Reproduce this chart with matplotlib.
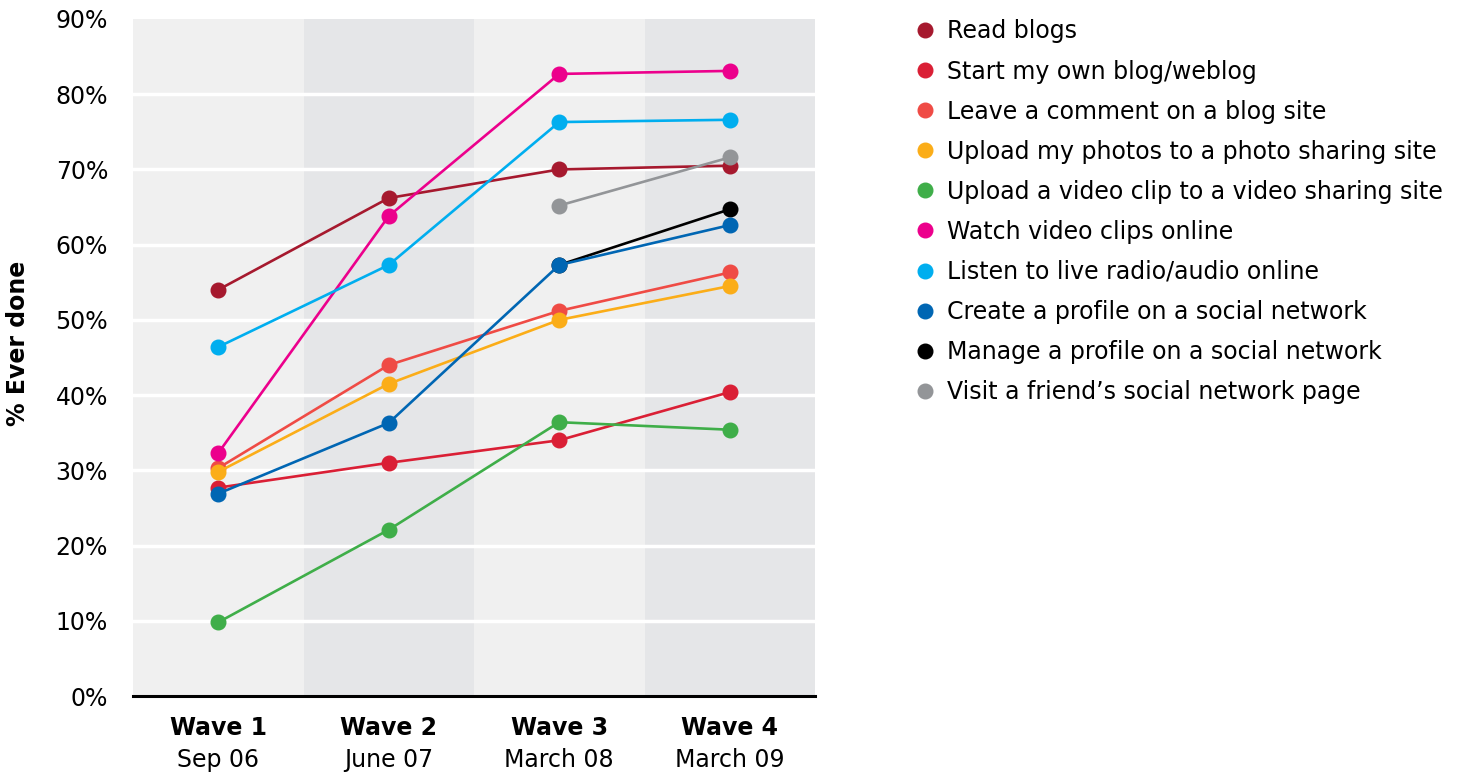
import numpy as np
import matplotlib
matplotlib.use('Agg')
import matplotlib.pyplot as plt
from matplotlib.lines import Line2D
from matplotlib.transforms import blended_transform_factory

# === DATA ===
WAVES = ['Wave 1', 'Wave 2', 'Wave 3', 'Wave 4']
DATES = ['Sep 06', 'June 07', 'March 08', 'March 09']

SERIES_NAMES = [
    'Read blogs',
    'Start my own blog/weblog',
    'Leave a comment on a blog site',
    'Upload my photos to a photo sharing site',
    'Upload a video clip to a video sharing site',
    'Watch video clips online',
    'Listen to live radio/audio online',
    'Create a profile on a social network',
    'Manage a profile on a social network',
    'Visit a friend\u2019s social network page',
]
read_blogs = [54.0, 66.2, 70.0, 70.5]
start_blog = [27.7, 31.0, 34.0, 40.4]
leave_comment = [30.3, 44.0, 51.2, 56.3]
upload_photos = [29.8, 41.5, 50.0, 54.5]
upload_video = [9.8, 22.1, 36.4, 35.4]
watch_video = [32.3, 63.8, 82.7, 83.1]
listen_radio = [46.4, 57.3, 76.3, 76.6]
create_profile = [26.9, 36.3, 57.3, 62.6]
manage_profile = [np.nan, np.nan, 57.3, 64.7]
visit_friend = [np.nan, np.nan, 65.2, 71.6]

SERIES_VALUES = [read_blogs, start_blog, leave_comment, upload_photos, upload_video,
                 watch_video, listen_radio, create_profile, manage_profile, visit_friend]
COLORS = ['#a6192e', '#da1f35', '#ef4b45', '#fbad18', '#3fae49',
          '#ec008c', '#00aeef', '#0066b3', '#000000', '#939598']
# series drawn behind the others (black line hides under the blue point)
ZORDERS = [3, 3, 3, 3, 3, 3, 3, 4, 2, 5]

Y_TICKS = [0, 10, 20, 30, 40, 50, 60, 70, 80, 90]
BAND_COLORS = ['#f0f0f0', '#e5e6e8']
FONT_SIZE = 17
# === END DATA ===

fig = plt.figure(figsize=(14.58, 7.72), dpi=100)
ax = fig.add_axes([133 / 1458, 1 - 696 / 772, (815 - 133) / 1458, (696 - 19) / 772])

x = np.arange(len(WAVES))
ax.set_xlim(-0.5, len(WAVES) - 0.5)
ax.set_ylim(0, 90)

# alternating background bands
for i in range(len(WAVES)):
    ax.axvspan(i - 0.5, i + 0.5, color=BAND_COLORS[i % 2], zorder=0, lw=0)

# white gridlines
for t in Y_TICKS[1:-1]:
    ax.axhline(t, color='white', lw=2.5, zorder=1)

for vals, col, z in zip(SERIES_VALUES, COLORS, ZORDERS):
    ax.plot(x, vals, color=col, lw=1.9, marker='o', markersize=10.5, zorder=z)

ax.axhline(0, color='black', lw=2.2, zorder=6, clip_on=False)

for s in ax.spines.values():
    s.set_visible(False)

ax.set_yticks(Y_TICKS)
ax.set_yticklabels([str(t) + '%' for t in Y_TICKS], fontsize=FONT_SIZE)
ax.tick_params(axis='y', length=0, pad=18)
ax.set_xticks([])

trans = blended_transform_factory(ax.transData, ax.transAxes)
for i in range(len(WAVES)):
    ax.text(x[i], -0.047, WAVES[i], transform=trans, ha='center', va='center',
            fontsize=FONT_SIZE, fontweight='bold')
    ax.text(x[i], -0.094, DATES[i], transform=trans, ha='center', va='center',
            fontsize=FONT_SIZE)

fig.text(18 / 1458, 1 - 343 / 772, '% Ever done', rotation=90, ha='center', va='center',
         fontsize=FONT_SIZE, fontweight='bold')

handles = [Line2D([], [], color=c, marker='o', linestyle='none', markersize=10.5) for c in COLORS]
leg = fig.legend(handles, SERIES_NAMES, loc='upper left', bbox_to_anchor=(908 / 1458, 1 - 10 / 772),
                 frameon=False, fontsize=FONT_SIZE, handlelength=0.6, handletextpad=0.65,
                 labelspacing=0.68, borderaxespad=0)

fig.savefig('out.png', dpi=100)
